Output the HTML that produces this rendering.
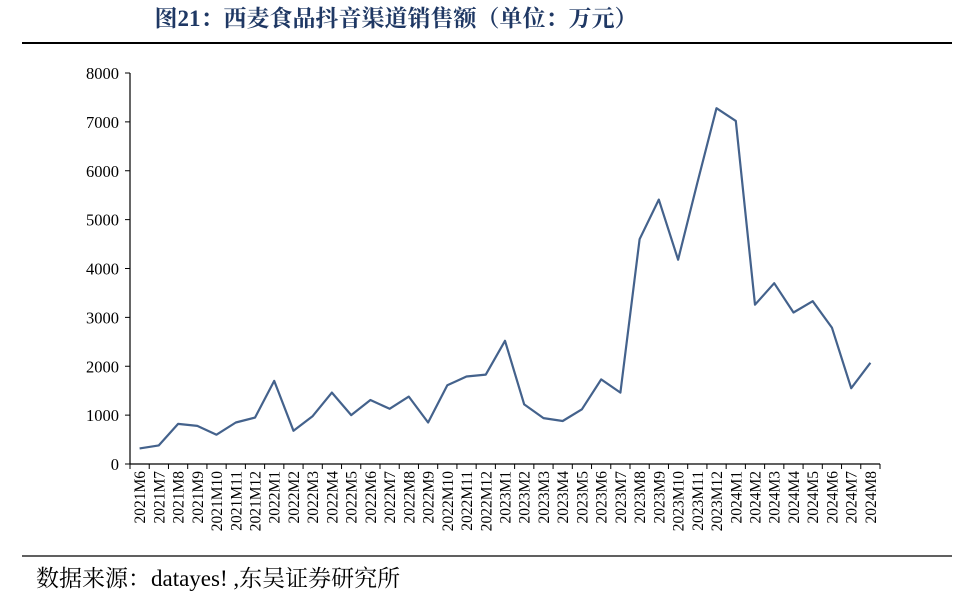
<!DOCTYPE html>
<html><head><meta charset="utf-8"><style>
body{margin:0;background:#fff;width:966px;height:602px;overflow:hidden;font-family:"Liberation Serif","Noto Serif CJK SC",serif}
</style></head><body>
<svg width="966" height="602">
<text x="396" y="26" font-size="23" font-weight="bold" fill="#1f3864" text-anchor="middle" font-family="Liberation Serif,'Noto Serif CJK SC',serif">图21：西麦食品抖音渠道销售额（单位：万元）</text>
<line x1="22" y1="43" x2="952" y2="43" stroke="#000" stroke-width="2"/>
<line x1="22" y1="556" x2="952" y2="556" stroke="#000" stroke-width="1.2"/>
<text x="36" y="586" font-size="23" fill="#000" font-family="Liberation Serif,'Noto Serif CJK SC',serif">数据来源：datayes! ,东吴证券研究所</text>
<g id="plot"></g>
</svg>
<script>
const categories=["2021M6","2021M7","2021M8","2021M9","2021M10","2021M11","2021M12","2022M1","2022M2","2022M3","2022M4","2022M5","2022M6","2022M7","2022M8","2022M9","2022M10","2022M11","2022M12","2023M1","2023M2","2023M3","2023M4","2023M5","2023M6","2023M7","2023M8","2023M9","2023M10","2023M11","2023M12","2024M1","2024M2","2024M3","2024M4","2024M5","2024M6","2024M7","2024M8"];
const sales=[320,380,820,780,600,850,950,1700,680,980,1460,1000,1310,1130,1380,850,1610,1790,1830,2520,1220,940,880,1120,1730,1460,4600,5410,4180,5750,7280,7020,3260,3700,3100,3330,2790,1550,2070];
const yTicks=[0,1000,2000,3000,4000,5000,6000,7000,8000];
const NS="http://www.w3.org/2000/svg";
const g=document.getElementById("plot");
const x0=130,x1=880,y0=464,y1=73,yMax=8000;
const bw=(x1-x0)/categories.length;
const xs=i=>x0+bw*(i+0.5);
const ys=v=>y0-(v/yMax)*(y0-y1);
function mk(t,a){const e=document.createElementNS(NS,t);for(const k in a)e.setAttribute(k,a[k]);g.appendChild(e);return e;}
let e=mk("line",{x1:x0,y1:y0,x2:x0,y2:y1,stroke:"#000","stroke-width":1.2});


e=mk("line",{x1:x0,y1:y0,x2:x1,y2:y0,stroke:"#000","stroke-width":1.2});


yTicks.forEach(v=>{
 let t=mk("line",{x1:x0-5,y1:ys(v),x2:x0,y2:ys(v),stroke:"#000"});
 
 
 let l=mk("text",{x:x0-11,y:ys(v)+6,"text-anchor":"end","font-size":"16.5",fill:"#000"});
 l.textContent=v;
 
 
});
for(let i=0;i<=categories.length;i++){
 let t=mk("line",{x1:x0+bw*i,y1:y0,x2:x0+bw*i,y2:y0+5,stroke:"#000"});
 
 
}
categories.forEach((c,i)=>{
 let l=mk("text",{x:0,y:0,"text-anchor":"end","font-size":"15.5",fill:"#000",transform:`translate(${xs(i)+5.5},${y0+7}) rotate(-90)`});
 l.textContent=c;
 
 
});
const pts=sales.map((v,i)=>xs(i).toFixed(1)+","+ys(v).toFixed(1)).join(" ");
e=mk("polyline",{points:pts,fill:"none",stroke:"#44628c","stroke-width":2.2,"stroke-linejoin":"round"});


</script>
</body></html>
